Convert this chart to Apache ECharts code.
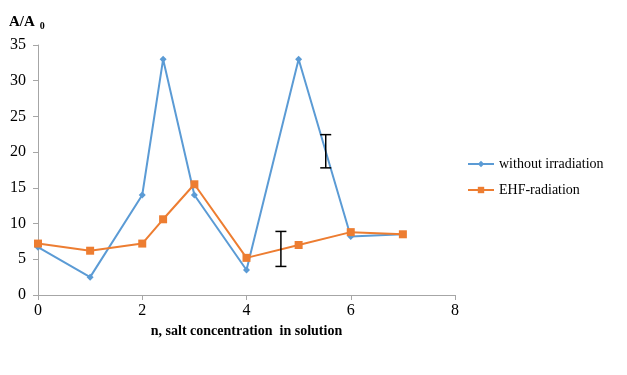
<!DOCTYPE html>
<html><head><meta charset="utf-8">
<script src="https://cdn.jsdelivr.net/npm/echarts@6/dist/echarts.min.js"></script>
<style>html,body{margin:0;padding:0;background:#fff}#c{width:627px;height:375px}</style>
</head><body><div id="c"></div>
<script>
const xWithout = [0, 1, 2, 2.4, 3, 4, 5, 6, 7];
const yWithout = [6.7, 2.5, 14, 33, 14, 3.5, 33, 8.2, 8.5];
const xEHF = [0, 1, 2, 2.4, 3, 4, 5, 6, 7];
const yEHF = [7.2, 6.2, 7.2, 10.6, 15.5, 5.2, 7.0, 8.8, 8.5];
const errX = [4.66, 5.52];
const errLow = [4.0, 17.8];
const errHigh = [8.9, 22.45];
const xTicks = [0, 2, 4, 6, 8];
const yTicks = [0, 5, 10, 15, 20, 25, 30, 35];

const font = 'Liberation Serif';
const chart = echarts.init(document.getElementById('c'));
chart.setOption({
  animation: false,
  backgroundColor: '#fff',
  title: {
    left: 4, top: 8,
    text: '{a|A/A}{b|  0}',
    textStyle: {
      rich: {
        a: {fontFamily: font, fontWeight: 'bold', fontSize: 15, color: '#000'},
        b: {fontFamily: font, fontWeight: 'bold', fontSize: 10, color: '#000', padding: [8, 0, 0, 0]}
      }
    }
  },
  grid: {left: 38, right: 172, top: 45, bottom: 80},
  legend: {
    orient: 'vertical', left: 462, top: 152, itemGap: 12, itemWidth: 26, itemHeight: 8,
    textStyle: {fontFamily: font, fontSize: 14, color: '#000'},
    data: ['without irradiation', 'EHF-radiation']
  },
  xAxis: {
    type: 'value', min: 0, max: 8, interval: 2,
    name: 'n, salt concentration  in solution', nameLocation: 'middle', nameGap: 28,
    nameTextStyle: {fontFamily: font, fontWeight: 'bold', fontSize: 14, color: '#000'},
    axisLine: {lineStyle: {color: '#a6a6a6'}},
    axisTick: {show: true, length: 5, lineStyle: {color: '#a6a6a6'}},
    axisLabel: {fontFamily: font, fontSize: 16, color: '#000', margin: 8,
      formatter: v => xTicks.includes(v) ? String(v) : ''},
    splitLine: {show: false}
  },
  yAxis: {
    type: 'value', min: 0, max: 35, interval: 5,
    axisLine: {show: true, lineStyle: {color: '#a6a6a6'}},
    axisTick: {show: true, length: 5, lineStyle: {color: '#a6a6a6'}},
    axisLabel: {fontFamily: font, fontSize: 16, color: '#000', margin: 12,
      formatter: v => yTicks.includes(v) ? String(v) : ''},
    splitLine: {show: false}
  },
  series: [
    {
      name: 'without irradiation', type: 'line',
      data: xWithout.map((x, i) => [x, yWithout[i]]),
      symbol: 'diamond', symbolSize: 7, showAllSymbol: true,
      lineStyle: {color: '#5B9BD5', width: 2},
      itemStyle: {color: '#5B9BD5'}, color: '#5B9BD5', z: 2
    },
    {
      name: 'EHF-radiation', type: 'line',
      data: xEHF.map((x, i) => [x, yEHF[i]]),
      symbol: 'rect', symbolSize: 8, showAllSymbol: true,
      lineStyle: {color: '#ED7D31', width: 2},
      itemStyle: {color: '#ED7D31'}, color: '#ED7D31', z: 3
    },
    {
      type: 'custom', name: 'err', z: 4,
      data: errX.map((x, i) => [x, errLow[i], errHigh[i]]),
      renderItem: function (params, api) {
        const lo = api.coord([api.value(0), api.value(1)]);
        const hi = api.coord([api.value(0), api.value(2)]);
        const w = 5.5;
        const st = {stroke: '#000', lineWidth: 1.5};
        return {type: 'group', children: [
          {type: 'line', shape: {x1: lo[0], y1: lo[1], x2: hi[0], y2: hi[1]}, style: st},
          {type: 'line', shape: {x1: lo[0] - w, y1: lo[1], x2: lo[0] + w, y2: lo[1]}, style: st},
          {type: 'line', shape: {x1: hi[0] - w, y1: hi[1], x2: hi[0] + w, y2: hi[1]}, style: st}
        ]};
      }
    }
  ]
});
</script></body></html>
